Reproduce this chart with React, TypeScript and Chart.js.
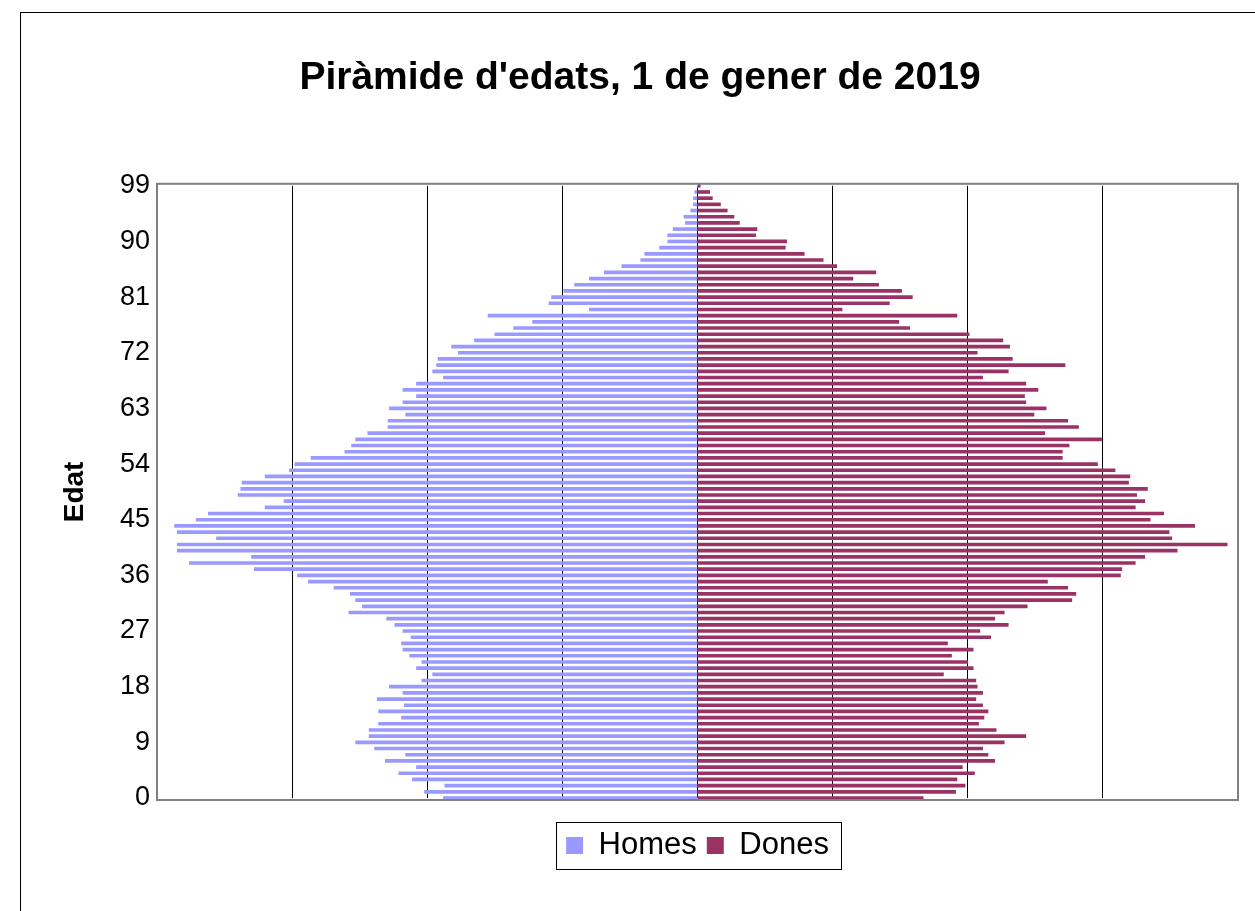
import React, { useEffect, useRef } from 'react';
import { Chart, registerables } from 'chart.js';

Chart.register(...registerables);

const FONT = '"Liberation Sans", Arial, Helvetica, sans-serif';

const titleText = "Piràmide d'edats, 1 de gener de 2019";
const axisTitle = 'Edat';
const seriesNames = ['Homes', 'Dones'];
const seriesColors = ['#9999FF', '#993366'];

// ages 0..99
const ages: string[] = Array.from({ length: 100 }, (_, i) => String(i));
const tickAges = ['0', '9', '18', '27', '36', '45', '54', '63', '72', '81', '90', '99'];

// Homes (males), age 0 .. 99
const homes = [
  188, 202, 187, 211, 221, 208, 231, 216, 239, 253,
  243, 243, 236, 219, 236, 217, 237, 218, 228, 204,
  196, 208, 204, 213, 218, 219, 212, 218, 224, 230,
  258, 248, 253, 257, 269, 288, 296, 328, 376, 330,
  385, 385, 356, 385, 387, 371, 362, 320, 306, 340,
  338, 337, 320, 302, 298, 286, 261, 256, 253, 244,
  229, 229, 216, 228, 218, 208, 218, 208, 188, 196,
  193, 192, 177, 182, 165, 150, 136, 122, 155, 80,
  110, 108, 99, 91, 80, 69, 56, 42, 39, 28,
  22, 22, 18, 9, 10, 5, 3, 3, 2, 0,
];

// Dones (females), age 0 .. 99
const dones = [
  167, 191, 198, 192, 205, 196, 220, 215, 211, 227,
  243, 221, 208, 212, 215, 211, 206, 211, 207, 206,
  182, 204, 200, 188, 204, 185, 217, 209, 230, 220,
  227, 244, 277, 280, 274, 259, 313, 314, 324, 331,
  355, 392, 351, 349, 368, 335, 345, 324, 331, 325,
  333, 319, 320, 309, 296, 270, 270, 275, 299, 257,
  282, 274, 249, 258, 243, 242, 252, 243, 211, 230,
  272, 233, 207, 231, 226, 201, 157, 149, 192, 107,
  142, 159, 151, 134, 115, 132, 103, 93, 79, 65,
  66, 43, 44, 31, 27, 22, 17, 11, 9, 2,
];

const xMin = -400;
const xMax = 400;
const xStep = 100;

const framePlugin = {
  id: 'frameBorders',
  afterDraw(chart: any) {
    const { ctx, chartArea } = chart;
    const { left, top, right, bottom } = chartArea;
    ctx.save();
    ctx.strokeStyle = '#808080';
    ctx.lineWidth = 2;
    ctx.strokeRect(left, top - 2, right - left, bottom - top + 4);
    const lg = chart.legend;
    if (lg && lg.legendHitBoxes && lg.legendHitBoxes.length) {
      let l = Infinity, t = Infinity, r = -Infinity, b = -Infinity;
      lg.legendHitBoxes.forEach((h: any) => {
        l = Math.min(l, h.left);
        t = Math.min(t, h.top);
        r = Math.max(r, h.left + h.width);
        b = Math.max(b, h.top + h.height);
      });
      ctx.strokeStyle = '#000';
      ctx.lineWidth = 1;
      ctx.strokeRect(Math.round(l - 10) + 0.5, Math.round(t - 8) + 0.5, Math.round(r - l + 22), Math.round(b - t + 16));
    }
    ctx.restore();
  },
};

export default function App() {
  const ref = useRef<HTMLCanvasElement | null>(null);

  useEffect(() => {
    if (!ref.current) return;
    const chart = new Chart(ref.current, {
      type: 'bar',
      data: {
        labels: ages,
        datasets: [
          {
            label: seriesNames[0],
            data: homes.map((v) => -v),
            backgroundColor: seriesColors[0],
            borderWidth: 0,
            barThickness: 3,
            xAxisID: 'x',
            yAxisID: 'y',
            clip: false,
          },
          {
            label: seriesNames[1],
            data: dones,
            backgroundColor: seriesColors[1],
            borderWidth: 0,
            barThickness: 3,
            xAxisID: 'x',
            yAxisID: 'y',
            clip: false,
          },
        ],
      },
      options: {
        indexAxis: 'y',
        animation: false,
        responsive: false,
        maintainAspectRatio: false,
        layout: { padding: { left: 25, right: 0, top: 0, bottom: 40 } },
        scales: {
          x: {
            stacked: true,
            min: xMin,
            max: xMax,
            ticks: { display: false, stepSize: xStep },
            grid: { color: '#000', lineWidth: 1, drawTicks: false },
            border: { display: false },
            afterFit: (s: any) => {
              s.height = 22;
            },
          },
          y: {
            stacked: true,
            reverse: true,
            offset: false,
            grid: { display: false, drawTicks: false },
            border: { display: false },
            ticks: {
              autoSkip: false,
              color: '#000',
              padding: 7,
              font: { family: FONT, size: 27 },
              callback: (_v: any, i: number) => (tickAges.includes(ages[i]) ? ages[i] : ''),
            },
            title: {
              display: true,
              text: axisTitle,
              color: '#000',
              font: { family: FONT, size: 28, weight: 'bold' },
              padding: { top: 33, bottom: 0 },
            },
            afterFit: (s: any) => {
              s.width = 132;
            },
          },
          y2: {
            type: 'linear',
            position: 'right',
            display: true,
            grid: { display: false, drawTicks: false },
            border: { display: false },
            ticks: { display: false },
            afterFit: (s: any) => {
              s.width = 17;
            },
          },
        },
        plugins: {
          title: {
            display: true,
            text: titleText,
            color: '#000',
            font: { family: FONT, size: 39, weight: 'bold' },
            padding: { top: 55, bottom: 84 },
          },
          legend: {
            position: 'bottom',
            fullSize: false,
            labels: {
              color: '#000',
              font: { family: FONT, size: 31 },
              boxWidth: 17,
              boxHeight: 17,
              padding: 10,
            },
          },
          tooltip: { enabled: false },
        },
      },
      plugins: [framePlugin],
    } as any);
    return () => chart.destroy();
  }, []);

  return (
    <div style={{ position: 'fixed', left: 0, top: 0, width: 1255, height: 911, overflow: 'hidden', background: '#fff' }}>
      <div
        style={{
          position: 'absolute',
          left: 20,
          top: 12,
          width: 1300,
          height: 1000,
          border: '1px solid #000',
          boxSizing: 'border-box',
        }}
      />
      <canvas ref={ref} width={1255} height={911} style={{ position: 'absolute', left: 0, top: 0, display: 'block' }} />
    </div>
  );
}
